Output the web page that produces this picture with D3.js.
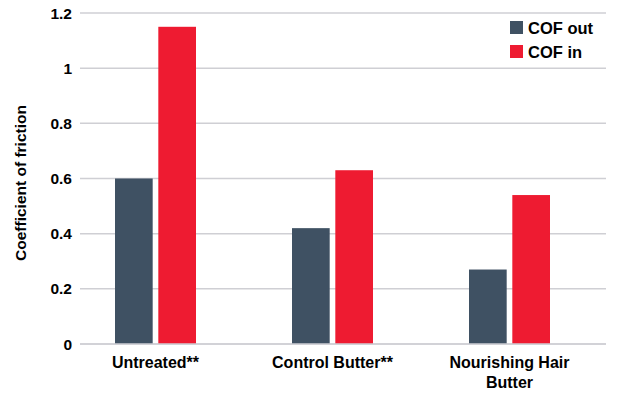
<!DOCTYPE html>
<meta charset="utf-8">
<style>
body { margin: 0; background: #fff; }
text { font-family: "Liberation Sans", Arial, sans-serif; font-weight: bold; fill: #000; }
.grid line { stroke: #cfcfd4; stroke-width: 1.5px; }
</style>
<body>
<script src="https://d3js.org/d3.v7.min.js"></script>
<script>

var categories = ["Untreated**", "Control Butter**", "Nourishing Hair Butter"];
var tickLines = [["Untreated**"], ["Control Butter**"], ["Nourishing Hair", "Butter"]];
var series = ["COF out", "COF in"];
var cofOut = [0.60, 0.42, 0.27];
var cofIn = [1.15, 0.63, 0.54];
var yTicks = [0, 0.2, 0.4, 0.6, 0.8, 1, 1.2];
var colors = ["#3f5163", "#ee1b31"];

var width = 624,
    height = 398;

var svg = d3.select("body").append("svg")
    .attr("width", width)
    .attr("height", height);

var y = d3.scaleLinear().domain([0, 1.2]).range([344, 13]);
var x = d3.scaleBand().domain(categories).range([67, 598]);
var x1 = d3.scaleBand().domain(series).range([-40.5, 40.5]).paddingInner(0.13);
var color = d3.scaleOrdinal().domain(series).range(colors);

// gridlines
svg.append("g")
    .attr("class", "grid")
  .selectAll("line")
    .data(yTicks)
  .enter().append("line")
    .attr("x1", 80)
    .attr("x2", 606)
    .attr("y1", function(d) { return y(d); })
    .attr("y2", function(d) { return y(d); });

// y tick labels
svg.append("g")
  .selectAll("text")
    .data(yTicks)
  .enter().append("text")
    .attr("x", 72)
    .attr("y", function(d) { return y(d); })
    .attr("dy", "0.36em")
    .attr("text-anchor", "end")
    .style("font-size", "15.5px")
    .text(function(d) { return d; });

svg.append("text")
    .attr("transform", "translate(26,183)rotate(-90)")
    .attr("text-anchor", "middle")
    .style("font-size", "15.5px")
    .text("Coefficient of friction");

// bars
var rows = categories.map(function(c, i) {
  return { cat: c, values: [cofOut[i], cofIn[i]] };
});

var groups = svg.append("g")
  .selectAll("g")
    .data(rows)
  .enter().append("g")
    .attr("transform", function(d) { return "translate(" + (x(d.cat) + x.bandwidth() / 2) + ",0)"; });

groups.selectAll("rect")
    .data(function(d) { return d.values.map(function(v, j) { return { key: series[j], value: v }; }); })
  .enter().append("rect")
    .attr("x", function(d) { return x1(d.key); })
    .attr("width", x1.bandwidth())
    .attr("y", function(d) { return y(d.value); })
    .attr("height", function(d) { return y(0) - y(d.value); })
    .attr("fill", function(d) { return color(d.key); });

// baseline on top of bars
svg.append("line")
    .attr("x1", 80).attr("x2", 606)
    .attr("y1", y(0)).attr("y2", y(0))
    .attr("stroke", "#cfcfd4")
    .attr("stroke-width", 1.5);

// x labels
var xl = svg.append("g")
  .selectAll("text")
    .data(categories)
  .enter().append("text")
    .attr("x", function(d) { return x(d) + x.bandwidth() / 2; })
    .attr("y", 368)
    .attr("text-anchor", "middle")
    .style("font-size", "16px");

xl.selectAll("tspan")
    .data(function(d, i) { return tickLines[i]; })
  .enter().append("tspan")
    .attr("x", function() { return d3.select(this.parentNode).attr("x"); })
    .attr("dy", function(d, i) { return i ? 19.5 : 0; })
    .text(function(d) { return d; });

// legend
var legend = svg.append("g")
  .selectAll("g")
    .data(series)
  .enter().append("g")
    .attr("transform", function(d, i) { return "translate(510," + (21 + i * 24) + ")"; });

legend.append("rect")
    .attr("width", 13)
    .attr("height", 13)
    .attr("fill", function(d) { return color(d); });

legend.append("text")
    .attr("x", 18)
    .attr("y", 12.5)
    .style("font-size", "16.5px")
    .text(function(d) { return d; });

</script>
